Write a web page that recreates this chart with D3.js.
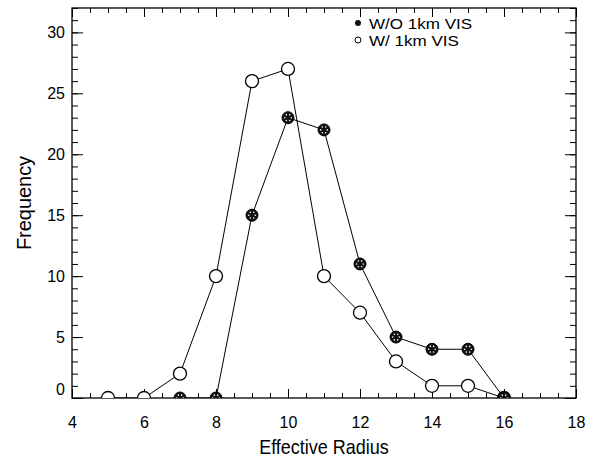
<!DOCTYPE html>
<html>
<head>
<meta charset="utf-8">
<script src="https://cdn.jsdelivr.net/npm/d3@7"></script>
<style>
  body { margin: 0; background: #fff; }
  svg { display: block; font-family: "Liberation Sans", Arial, sans-serif; }
</style>
</head>
<body>
<svg id="chart" width="593" height="459"></svg>
<script>
'use strict';

// data
const radius = [5, 6, 7, 8, 9, 10, 11, 12, 13, 14, 15, 16];
const withoutVis = [null, null, 0, 0, 15, 23, 22, 11, 5, 4, 4, 0];   // W/O 1km VIS
const withVis = [0, 0, 2, 10, 26, 27, 10, 7, 3, 1, 1, 0];           // W/ 1km VIS
const xTicks = [4, 6, 8, 10, 12, 14, 16, 18];
const yTicks = [0, 5, 10, 15, 20, 25, 30];
const legendNames = ['W/O 1km VIS', 'W/ 1km VIS'];

(function () {
    const svg = d3.select('#chart');
    const left = 72, right = 576, top = 8, bottom = 398;

    const x = d3.scaleLinear().domain([4, 18]).range([left, right]);
    const y = d3.scaleLinear().domain([0, 32]).range([bottom, top]);

    svg.append('defs').append('clipPath').attr('id', 'plotclip')
        .append('rect')
        .attr('x', left).attr('y', top)
        .attr('width', right - left).attr('height', bottom - top);

    // minor ticks
    const xMinor = d3.range(4, 18.01, 0.5);
    const yMinor = d3.range(0, 32.01, 1);

    // bottom axis
    const gb = svg.append('g').attr('transform', `translate(0,${bottom})`);
    gb.call(d3.axisTop(x).tickValues(xMinor).tickSize(5).tickFormat(''));
    gb.select('.domain').remove();
    const gb2 = svg.append('g').attr('transform', `translate(0,${bottom})`);
    gb2.call(d3.axisTop(x).tickValues(xTicks).tickSize(9).tickFormat(d3.format('d')));
    gb2.select('.domain').remove();
    gb2.selectAll('text')
        .attr('y', 30).attr('dy', 0)
        .attr('font-size', 16).attr('fill', '#000');

    // top axis
    const gt = svg.append('g').attr('transform', `translate(0,${top})`);
    gt.call(d3.axisBottom(x).tickValues(xMinor).tickSize(5).tickFormat(''));
    gt.select('.domain').remove();
    const gt2 = svg.append('g').attr('transform', `translate(0,${top})`);
    gt2.call(d3.axisBottom(x).tickValues(xTicks).tickSize(9).tickFormat(''));
    gt2.select('.domain').remove();

    // left axis
    const gl = svg.append('g').attr('transform', `translate(${left},0)`);
    gl.call(d3.axisRight(y).tickValues(yMinor).tickSize(6).tickFormat(''));
    gl.select('.domain').remove();
    const gl2 = svg.append('g').attr('transform', `translate(${left},0)`);
    gl2.call(d3.axisRight(y).tickValues(yTicks).tickSize(11).tickFormat(d3.format('d')));
    gl2.select('.domain').remove();
    gl2.selectAll('text')
        .attr('x', -7).attr('text-anchor', 'end')
        .attr('font-size', 16).attr('fill', '#000')
        .attr('dy', d => d === 0 ? '-0.2em' : '0.35em');

    // right axis
    const gr = svg.append('g').attr('transform', `translate(${right},0)`);
    gr.call(d3.axisLeft(y).tickValues(yMinor).tickSize(6).tickFormat(''));
    gr.select('.domain').remove();
    const gr2 = svg.append('g').attr('transform', `translate(${right},0)`);
    gr2.call(d3.axisLeft(y).tickValues(yTicks).tickSize(11).tickFormat(''));
    gr2.select('.domain').remove();

    svg.selectAll('.tick line').attr('stroke', '#000').attr('stroke-width', 1);

    // frame
    svg.append('rect')
        .attr('x', left).attr('y', top)
        .attr('width', right - left).attr('height', bottom - top)
        .attr('fill', 'none').attr('stroke', '#000').attr('stroke-width', 1.3);

    // axis titles (slightly condensed like the original)
    svg.append('text')
        .attr('transform', `translate(${(left + right) / 2},454) scale(0.9,1)`)
        .attr('text-anchor', 'middle').attr('font-size', 20)
        .text('Effective Radius');
    svg.append('text')
        .attr('transform', `translate(31,${(top + bottom) / 2}) rotate(-90) scale(0.95,1)`)
        .attr('text-anchor', 'middle').attr('font-size', 21)
        .text('Frequency');

    const plot = svg.append('g').attr('clip-path', 'url(#plotclip)');

    const line = d3.line()
        .defined(d => d[1] !== null)
        .x(d => x(d[0])).y(d => y(d[1]));

    const s1 = radius.map((r, i) => [r, withoutVis[i]]);
    const s2 = radius.map((r, i) => [r, withVis[i]]);

    plot.append('path').datum(s2).attr('d', line)
        .attr('fill', 'none').attr('stroke', '#000').attr('stroke-width', 1);
    plot.append('path').datum(s1).attr('d', line)
        .attr('fill', 'none').attr('stroke', '#000').attr('stroke-width', 1);

    function filledMarker(sel, r) {
        sel.append('circle').attr('r', r).attr('fill', '#111').attr('stroke', '#000');
        const a = d3.range(0, 360, 60);
        sel.selectAll('circle.dot').data(a).enter().append('circle')
            .attr('class', 'dot')
            .attr('cx', d => Math.cos(d * Math.PI / 180) * r * 0.55)
            .attr('cy', d => Math.sin(d * Math.PI / 180) * r * 0.55)
            .attr('r', 0.8).attr('fill', '#fff');
    }
    function openMarker(sel, r) {
        sel.append('circle').attr('r', r).attr('fill', '#fff')
            .attr('stroke', '#000').attr('stroke-width', 1.3);
    }

    plot.selectAll('g.open').data(s2.filter(d => d[1] !== null)).enter()
        .append('g').attr('class', 'open')
        .attr('transform', d => `translate(${x(d[0])},${y(d[1])})`)
        .each(function () { openMarker(d3.select(this), 6.5); });

    plot.selectAll('g.filled').data(s1.filter(d => d[1] !== null)).enter()
        .append('g').attr('class', 'filled')
        .attr('transform', d => `translate(${x(d[0])},${y(d[1])})`)
        .each(function () { filledMarker(d3.select(this), 6); });

    // legend
    const legend = svg.append('g');
    legendNames.forEach((name, i) => {
        const ly = 23 + i * 17;
        const g = legend.append('g').attr('transform', `translate(358,${ly})`);
        if (i === 0) {
            g.append('circle').attr('r', 3).attr('fill', '#111');
        } else {
            g.append('circle').attr('r', 3).attr('fill', '#fff')
                .attr('stroke', '#000').attr('stroke-width', 1);
        }
        legend.append('text')
            .attr('transform', `translate(369,${ly + 6}) scale(1.1,1)`)
            .attr('font-size', 15.5)
            .text(name);
    });
})();
</script>
</body>
</html>
